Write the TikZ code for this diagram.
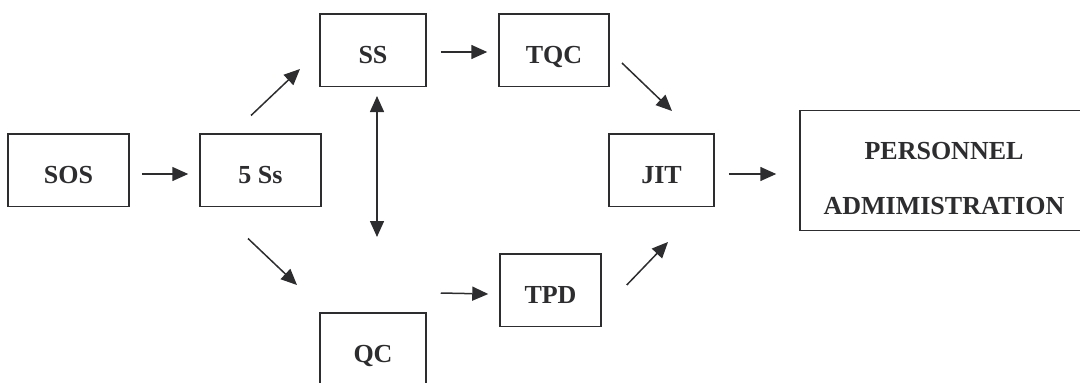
\documentclass[tikz,border=0pt]{standalone}
\usepackage{fontspec}
\setmainfont{Liberation Serif}
\usetikzlibrary{arrows.meta,calc}
\definecolor{ink}{RGB}{45,45,48}
\begin{document}
\begin{tikzpicture}[x=1pt,y=-1pt,
  box/.style={draw=ink,line width=1.5pt,text=ink,font=\fontsize{26}{30}\selectfont\bfseries,
    inner sep=0pt,text height=26pt,text depth=0pt,minimum width=#1,minimum height=72.5pt},
  box/.default=110,
  tip/.tip={Triangle[length=16pt,width=14pt]},
  arr/.style={draw=ink,line width=1.5pt,-tip},
  darr/.style={draw=ink,line width=1.5pt,tip-tip}]
\useasboundingbox (0,0) rectangle (1080,383);
\node[box=121] (sos) at (68.5,170) {SOS};
\node[box=121] (ss5) at (260.5,170) {5 Ss};
\node[box=106] (ss) at (373,50) {SS};
\node[box=110] (tqc) at (554,50) {TQC};
\node[box=105] (jit) at (661.5,170) {JIT};
\node[box=101] (tpd) at (550.5,290) {TPD};
\node[box=106] (qc) at (373,349) {QC};
\node[draw=ink,line width=1.5pt,minimum width=284pt,minimum height=120pt,inner sep=0pt] (pa) at (942,170.5) {};
\node[text=ink,font=\fontsize{26}{55}\selectfont\bfseries,align=center,inner sep=0pt] (patext) at ($(pa.center)+(2,8)$) {PERSONNEL\\ADMIMISTRATION};
\draw[arr] ($(sos.east)+(12,4)$) -- ($(ss5.west)+(-11,4)$);
\draw[arr] ($(ss5.north)+(-9.5,-17.5)$) -- ($(ss.south)+(-73,-18)$);
\draw[arr] ($(ss5.south)+(-12.5,31.5)$) -- ($(qc.north)+(-76,-27)$);
\draw[darr] ($(ss.south)+(4,9)$) -- ($(qc.north)+(4,-75)$);
\draw[arr] ($(ss.east)+(14,2)$) -- ($(tqc.west)+(-11,2)$);
\draw[arr] ($(tqc.south)+(68,-24)$) -- ($(jit.north)+(10.5,-22)$);
\draw[arr] ($(qc.north east)+(14,-19)$) -- ($(tpd.west)+(-11,4)$);
\draw[arr] ($(tpd.east)+(25,-5)$) -- ($(jit.south)+(6.5,35)$);
\draw[arr] ($(jit.east)+(14,4)$) -- ($(pa.west)+(-23,3.5)$);
\end{tikzpicture}
\end{document}
